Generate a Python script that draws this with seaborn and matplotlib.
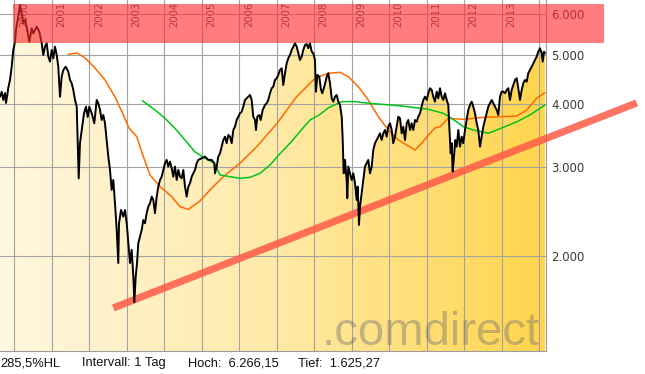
import numpy as np
import pandas as pd
import matplotlib
matplotlib.use("Agg")
import matplotlib.pyplot as plt
import matplotlib.transforms as mtransforms
from matplotlib.colors import LinearSegmentedColormap
from matplotlib.patches import Rectangle
from matplotlib.ticker import FixedLocator, NullLocator
import seaborn as sns

# ---- data (decimal year, index level) ----
price_years = [
    1999.616, 1999.661, 1999.704, 1999.749, 1999.776, 1999.811, 1999.837, 1999.883, 1999.928, 1999.971,
    2000.016, 2000.043, 2000.104, 2000.150, 2000.195, 2000.238, 2000.283, 2000.328, 2000.398, 2000.462,
    2000.504, 2000.595, 2000.665, 2000.729, 2000.771, 2000.817, 2000.862, 2000.905, 2000.950, 2000.995,
    2001.038, 2001.083, 2001.129, 2001.171, 2001.217, 2001.262, 2001.305, 2001.369, 2001.438, 2001.484,
    2001.529, 2001.572, 2001.617, 2001.663, 2001.716, 2001.750, 2001.796, 2001.857, 2001.911, 2001.956,
    2001.999, 2002.063, 2002.132, 2002.196, 2002.239, 2002.284, 2002.329, 2002.372, 2002.417, 2002.463,
    2002.506, 2002.551, 2002.596, 2002.639, 2002.684, 2002.730, 2002.772, 2002.791, 2002.845, 2002.906,
    2002.952, 2002.997, 2003.040, 2003.085, 2003.130, 2003.173, 2003.200, 2003.237, 2003.272, 2003.306,
    2003.351, 2003.397, 2003.439, 2003.485, 2003.530, 2003.573, 2003.618, 2003.664, 2003.707, 2003.751,
    2003.797, 2003.840, 2003.885, 2003.930, 2003.973, 2004.018, 2004.064, 2004.106, 2004.152, 2004.197,
    2004.240, 2004.285, 2004.331, 2004.373, 2004.419, 2004.464, 2004.507, 2004.552, 2004.597, 2004.640,
    2004.685, 2004.731, 2004.773, 2004.819, 2004.864, 2004.907, 2004.998, 2005.085, 2005.174, 2005.264,
    2005.334, 2005.352, 2005.398, 2005.440, 2005.486, 2005.531, 2005.574, 2005.619, 2005.664, 2005.707,
    2005.753, 2005.798, 2005.841, 2005.886, 2005.931, 2005.974, 2006.019, 2006.065, 2006.107, 2006.153,
    2006.198, 2006.241, 2006.286, 2006.331, 2006.374, 2006.420, 2006.446, 2006.481, 2006.535, 2006.572,
    2006.625, 2006.686, 2006.732, 2006.774, 2006.820, 2006.865, 2006.908, 2006.953, 2006.998, 2007.041,
    2007.086, 2007.132, 2007.174, 2007.220, 2007.265, 2007.308, 2007.353, 2007.399, 2007.441, 2007.487,
    2007.532, 2007.575, 2007.620, 2007.665, 2007.708, 2007.754, 2007.799, 2007.842, 2007.887, 2007.933,
    2007.975, 2008.020, 2008.047, 2008.082, 2008.135, 2008.181, 2008.216, 2008.269, 2008.333, 2008.376,
    2008.421, 2008.466, 2008.509, 2008.554, 2008.600, 2008.642, 2008.688, 2008.733, 2008.760, 2008.786,
    2008.821, 2008.866, 2008.882, 2008.909, 2008.954, 2008.999, 2009.042, 2009.088, 2009.133, 2009.160,
    2009.194, 2009.221, 2009.266, 2009.309, 2009.354, 2009.400, 2009.442, 2009.488, 2009.533, 2009.576,
    2009.621, 2009.667, 2009.709, 2009.755, 2009.800, 2009.843, 2009.888, 2009.933, 2009.976, 2010.021,
    2010.067, 2010.109, 2010.155, 2010.200, 2010.243, 2010.288, 2010.333, 2010.376, 2010.422, 2010.467,
    2010.510, 2010.555, 2010.600, 2010.643, 2010.689, 2010.734, 2010.777, 2010.822, 2010.867, 2010.910,
    2010.955, 2011.001, 2011.043, 2011.089, 2011.134, 2011.177, 2011.222, 2011.268, 2011.310, 2011.356,
    2011.401, 2011.444, 2011.489, 2011.534, 2011.577, 2011.604, 2011.641, 2011.668, 2011.694, 2011.729,
    2011.764, 2011.801, 2011.844, 2011.889, 2011.935, 2011.977, 2012.023, 2012.068, 2012.111, 2012.156,
    2012.201, 2012.244, 2012.289, 2012.335, 2012.377, 2012.423, 2012.468, 2012.511, 2012.556, 2012.601,
    2012.644, 2012.690, 2012.735, 2012.778, 2012.823, 2012.868, 2012.911, 2012.956, 2013.002, 2013.044,
    2013.090, 2013.135, 2013.178, 2013.223, 2013.268, 2013.311, 2013.357, 2013.402, 2013.445, 2013.490,
    2013.535, 2013.578, 2013.623, 2013.669, 2013.711, 2013.757, 2013.802, 2013.845, 2013.890, 2013.935,
    2013.978, 2014.024, 2014.069, 2014.096, 2014.131, 2014.158,
]
price = [
    4130, 4225, 4070, 4200, 4015, 4163, 4300, 4456, 4733, 5107,
    5302, 5591, 5950, 6264, 6033, 5764, 5851, 5676, 5302, 5634,
    5508, 5676, 5548, 5264, 4992, 5184, 5264, 4955, 4843, 5107,
    4918, 5184, 4992, 4733, 4130, 4524, 4663, 4733, 4628, 4456,
    4390, 4259, 4070, 3948, 2851, 3344, 3551, 3831, 3948, 3766,
    3948, 3831, 3661, 4070, 4009, 3889, 3716, 3802, 3661, 3394,
    3147, 2962, 2705, 2830, 2546, 2256, 1941, 2325, 2470, 2396,
    2470, 2325, 2124, 1941, 2060, 1826, 1625, 1826, 1941, 2124,
    2188, 2256, 2360, 2325, 2434, 2508, 2546, 2624, 2585, 2434,
    2624, 2746, 2830, 2873, 2962, 3054, 3100, 3008, 3076, 2985,
    2873, 3008, 2830, 2962, 2873, 2852, 2962, 2746, 2624, 2746,
    2788, 2873, 2917, 2962, 3054, 3100, 3124, 3147, 3100, 3100,
    3054, 2917, 3008, 3147, 3195, 3292, 3394, 3445, 3344, 3472,
    3445, 3344, 3551, 3605, 3716, 3772, 3831, 3858, 3948, 4070,
    4101, 4131, 4163, 4070, 3772, 3716, 3551, 3772, 3802, 3716,
    3889, 3978, 4009, 4070, 4195, 4292, 4324, 4456, 4491, 4559,
    4663, 4700, 4356, 4594, 4807, 4918, 4992, 5107, 5184, 5264,
    5184, 5031, 4880, 4955, 5107, 5223, 5247, 5147, 5264, 5068,
    5031, 4880, 4226, 4559, 4524, 4259, 4195, 4324, 4524, 4594,
    4390, 4101, 4039, 4131, 4163, 4039, 3978, 3772, 3394, 2917,
    3100, 2830, 2605, 3008, 2917, 2830, 2917, 2788, 2585, 2746,
    2307, 2508, 2666, 2830, 3008, 3054, 3100, 2917, 3008, 3243,
    3344, 3394, 3445, 3498, 3394, 3498, 3551, 3445, 3605, 3661,
    3551, 3344, 3445, 3605, 3772, 3744, 3498, 3605, 3394, 3661,
    3716, 3551, 3661, 3551, 3716, 3688, 3772, 3831, 3948, 4070,
    4131, 4070, 4195, 4292, 4259, 4131, 4039, 4226, 4101, 4292,
    4131, 4070, 4195, 4070, 3978, 3605, 3195, 3344, 2940, 3147,
    3394, 3292, 3551, 3292, 3445, 3344, 3551, 3716, 3889, 3978,
    4039, 3948, 3831, 3661, 3551, 3292, 3445, 3605, 3716, 3831,
    3948, 4009, 4070, 4009, 3948, 3889, 3802, 4131, 4226, 4226,
    4195, 4259, 4292, 4070, 4259, 4356, 4456, 4491, 4292, 4070,
    4259, 4390, 4456, 4422, 4594, 4663, 4733, 4807, 4880, 4955,
    5068, 5147, 5031, 4843, 5068, 5031,
]

# orange moving average
fast_years = [
    2001.438, 2001.670, 2001.884, 2002.151, 2002.418, 2002.684, 2002.871, 2003.058, 2003.263, 2003.440,
    2003.618, 2003.885, 2004.197, 2004.419, 2004.640, 2004.952, 2005.219, 2005.574, 2006.019, 2006.465,
    2006.998, 2007.532, 2007.887, 2008.020, 2008.375, 2008.688, 2008.909, 2009.176, 2009.442, 2009.709,
    2009.976, 2010.243, 2010.689, 2010.867, 2011.089, 2011.222, 2011.356, 2011.577, 2011.977, 2012.511,
    2013.402, 2013.669, 2013.935, 2014.158,
]
fast_ma = [
    5008, 5038, 4925, 4705, 4456, 4126, 3854, 3584, 3445, 3147,
    2895, 2746, 2624, 2508, 2476, 2572, 2705, 2873, 3054, 3292,
    3652, 4131, 4390, 4489, 4594, 4614, 4524, 4324, 4070, 3772,
    3551, 3394, 3243, 3344, 3498, 3584, 3605, 3744, 3727, 3761,
    3783, 3889, 4101, 4210,
]

# green moving average
slow_years = [
    2003.413, 2003.752, 2004.018, 2004.285, 2004.552, 2004.819, 2005.085, 2005.334, 2005.486, 2005.753,
    2006.019, 2006.286, 2006.553, 2006.820, 2007.086, 2007.353, 2007.620, 2007.887, 2008.135, 2008.375,
    2008.733, 2009.088, 2009.442, 2009.800, 2010.333, 2010.689, 2011.043, 2011.444, 2011.622, 2011.801,
    2011.977, 2012.244, 2012.644, 2012.868, 2013.135, 2013.402, 2013.757, 2014.158,
]
slow_ma = [
    4057, 3889, 3746, 3577, 3394, 3214, 3124, 3054, 2895, 2873,
    2852, 2864, 2917, 3030, 3189, 3344, 3527, 3716, 3802, 3927,
    4039, 4039, 4009, 3991, 3960, 3930, 3902, 3831, 3761, 3685,
    3605, 3551, 3498, 3551, 3616, 3685, 3802, 3978,
]

# drawn trend line and resistance zone
trend_years = [2002.639, 2016.604]
trend_levels = [1583, 4015]
zone_years = [1999.955, 2015.731]
zone_levels = [5282, 6298]

year_ticks = list(range(2000, 2015))
level_ticks = [2000, 3000, 4000, 5000, 6000]
level_labels = ["2.000", "3.000", "4.000", "5.000", "6.000"]
info_parts = ["285,5%HL", "Intervall: 1 Tag", "Hoch:  6.266,15", "Tief:  1.625,27"]
info_x_px = [0, 82, 188, 298]

x_range = (1999.616, 2014.184)
y_range = (1302, 6407)

# ---- plot ----
sns.set_theme(style="white")
plt.rcParams["font.family"] = ["DejaVu Sans"]

fig = plt.figure(figsize=(6.45, 3.74), dpi=100)
ax = fig.add_axes([0, 23 / 374, 546 / 645, 351 / 374])
ax.set_yscale("log")
ax.set_xlim(*x_range)
ax.set_ylim(*y_range)
ax.autoscale(False)

df = pd.DataFrame({"year": price_years, "close": price})

# area under the price with a left-to-right gradient
area = ax.fill_between(df["year"], df["close"], y_range[0], color="none", lw=0)
gold = LinearSegmentedColormap.from_list("gold", ["#fff7df", "#ffeaa8", "#ffd54c"])
grad = np.linspace(0, 1, 256).reshape(1, -1)
img = ax.imshow(grad, cmap=gold, extent=[0, 1, 0, 1], transform=ax.transAxes,
                aspect="auto", zorder=0.5, interpolation="bilinear")
img.set_clip_path(area.get_paths()[0], transform=ax.transData)

# trend line
sns.lineplot(x=trend_years, y=trend_levels, ax=ax, color="#ff5a48", lw=5.2, alpha=0.85,
             zorder=2.8, clip_on=False, solid_capstyle="butt")

# moving averages and price
sns.lineplot(x=fast_years, y=fast_ma, ax=ax, color="#ff6a00", lw=1.1, zorder=3)
sns.lineplot(x=slow_years, y=slow_ma, ax=ax, color="#00c41a", lw=1.1, zorder=3)
sns.lineplot(data=df, x="year", y="close", ax=ax, color="black", lw=1.4, zorder=4,
             estimator=None)

# grid and axes
ax.set_axisbelow(False)
ax.xaxis.set_major_locator(FixedLocator(year_ticks))
ax.yaxis.set_major_locator(FixedLocator(level_ticks))
ax.yaxis.set_minor_locator(NullLocator())
ax.xaxis.set_minor_locator(NullLocator())
ax.grid(True, color="#a3a3a3", lw=0.8)
ax.tick_params(axis="x", length=0, labelbottom=False)
ax.tick_params(axis="y", length=0, labelleft=False, labelright=True, right=True, left=False,
               labelsize=8.5, labelcolor="#3a3a3a", pad=4)
ax.set_yticklabels(level_labels)
for side in ["left", "top"]:
    ax.spines[side].set_visible(False)
for side in ["right", "bottom"]:
    ax.spines[side].set_color("#9c9c9c")
    ax.spines[side].set_linewidth(0.8)
ax.set_xlabel("")
ax.set_ylabel("")

# year labels inside the top of the plot
trans = mtransforms.blended_transform_factory(ax.transData, ax.transAxes)
for yr in year_ticks[:-1]:
    ax.text(yr + 0.12, 1 - 2 / 351, str(yr), rotation=90, ha="left", va="top",
            transform=trans, fontsize=7.2, color="#444444", zorder=2)

# resistance zone
ax.add_patch(Rectangle((zone_years[0], zone_levels[0]), zone_years[1] - zone_years[0],
                       zone_levels[1] - zone_levels[0], facecolor="#ff2e2e", alpha=0.62,
                       edgecolor="none", zorder=10, clip_on=False))

# watermark
ax.text(0.989, 0.017, ".comdirect", transform=ax.transAxes, ha="right", va="baseline",
        fontsize=34, color="#707070", alpha=0.42,
        family=["Liberation Sans", "DejaVu Sans"], zorder=3.5)

ax.set_xlim(*x_range)
ax.set_ylim(*y_range)

for part, px in zip(info_parts, info_x_px):
    fig.text(px / 645, (374 - 366) / 374, part, ha="left", va="baseline", fontsize=9.3,
             color="#111111", family=["Liberation Sans", "DejaVu Sans"])

fig.savefig("out.png", dpi=100)
